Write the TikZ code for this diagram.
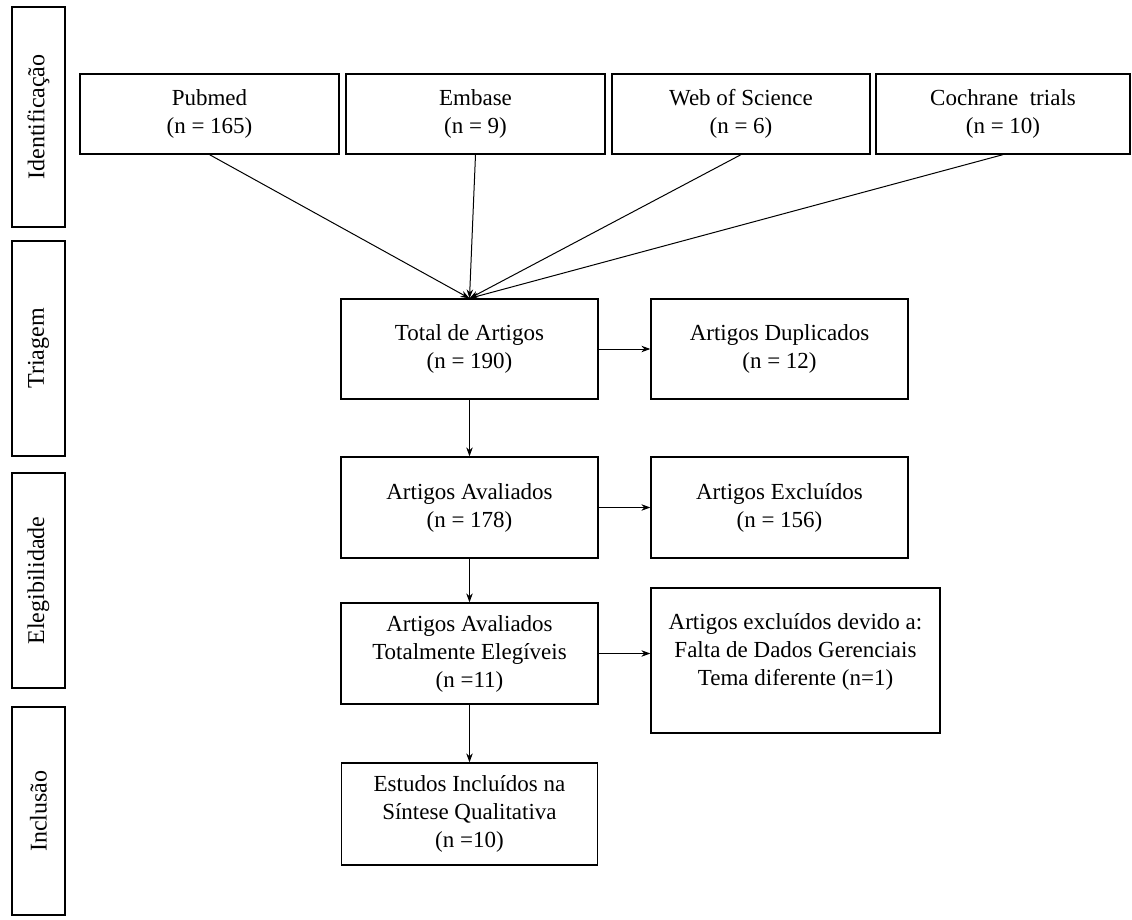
\documentclass[tikz,border=0pt]{standalone}
\usepackage{fontspec}
\setmainfont{Liberation Serif}
\usetikzlibrary{arrows.meta}

\begin{document}
\begin{tikzpicture}[->,>={Stealth[length=9pt,width=6.5pt]},x=1pt,y=-1pt,line width=1pt]

  \tikzstyle{caixa}=[rectangle,draw,-,line width=1.3pt,align=center,inner sep=0pt,
                     font=\fontsize{23}{28}\selectfont]
  \tikzstyle{fase}=[caixa,rotate=90,minimum width=215,minimum height=53,
                    font=\fontsize{24}{29}\selectfont]

  \useasboundingbox (0,0) rectangle (1132,920);

  % fases
  \node[fase,minimum width=220] (ident) at (38.5,117) {Identificação};
  \node[fase] (triagem)  at (38.5,348.5) {Triagem};
  \node[fase] (elegib)   at (38.5,580.5) {Elegibilidade};
  \node[fase,minimum width=208] (inclusao) at (38.5,811) {Inclusão};

  % bases
  \node[caixa,minimum width=259,minimum height=80] (pubmed) at (209.5,114) {Pubmed\\(n = 165)};
  \node[caixa,minimum width=259,minimum height=80] (embase) [right of=pubmed,node distance=266pt] {Embase\\(n = 9)};
  \node[caixa,minimum width=258,minimum height=80] (wos) [right of=embase,node distance=265.5pt] {Web of Science\\(n = 6)};
  \node[caixa,minimum width=254,minimum height=80] (cochrane) [right of=wos,node distance=262pt] {Cochrane~~trials\\(n = 10)};

  \node[caixa,minimum width=257,minimum height=100] (total) at (469.5,349) {Total de Artigos\\(n = 190)};
  \node[caixa,minimum width=257,minimum height=100] (dup) [right of=total,node distance=310pt] {Artigos Duplicados\\(n = 12)};
  \node[caixa,minimum width=257,minimum height=101] (aval) [below of=total,node distance=158.5pt] {Artigos Avaliados\\(n = 178)};
  \node[caixa,minimum width=257,minimum height=101] (excl) [right of=aval,node distance=310pt] {Artigos Excluídos\\(n = 156)};
  \node[caixa,minimum width=257,minimum height=101] (eleg) [below of=aval,node distance=146pt] {Artigos Avaliados\\Totalmente Elegíveis\\(n =11)};
  \node[caixa,minimum width=289,minimum height=145] (motivo) [right of=eleg,node distance=326pt,yshift=-7pt]
       {Artigos excluídos devido a:\\Falta de Dados Gerenciais\\Tema diferente (n=1)\\[-5pt]\mbox{}};
  \node[caixa,minimum width=256,minimum height=102] (estudos) [below of=eleg,node distance=160.5pt]
       {Estudos Incluídos na\\Síntese Qualitativa\\(n =10)};

  \draw (pubmed.south) -- (total.north);
  \draw (embase.south) -- (total.north);
  \draw (wos.south) -- (total.north);
  \draw (cochrane.south) -- (total.north);

  \draw (total) -- (dup);
  \draw (total) -- (aval);
  \draw (aval) -- (excl);
  \draw (aval) -- (eleg);
  \draw (eleg.east) -- (eleg.east -| motivo.west);
  \draw (eleg) -- (estudos);
\end{tikzpicture}
\end{document}
